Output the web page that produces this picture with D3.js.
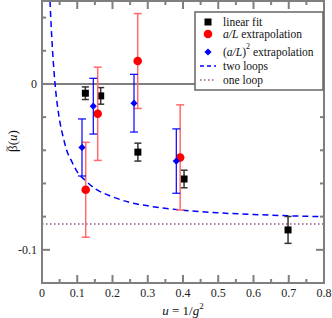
<!DOCTYPE html>
<html><head><meta charset="utf-8">
<script src="https://cdn.jsdelivr.net/npm/d3@7"></script>
<style>
html,body{margin:0;padding:0;background:#fff;}
</style></head>
<body><svg id="c" width="332" height="318" font-family="Liberation Serif, Times New Roman, serif"></svg>
<script>
// linear fit
const linU = [0.123, 0.1665, 0.272, 0.403, 0.698];
const linV = [-0.0056, -0.0072, -0.0411, -0.0573, -0.0880];
const linE = [0.0038, 0.0050, 0.0054, 0.0053, 0.0081];
// a/L extrapolation
const aLU = [0.124, 0.158, 0.2715, 0.392];
const aLV = [-0.0638, -0.0180, 0.0138, -0.0443];
const aLE = [0.0286, 0.0281, 0.0286, 0.0317];
// (a/L)^2 extrapolation
const a2U = [0.1135, 0.1455, 0.261, 0.381];
const a2V = [-0.0383, -0.0134, -0.0116, -0.0465];
const a2E = [0.0172, 0.0168, 0.0174, 0.0194];
// two loops curve
const twoU = [0.0227, 0.026, 0.03, 0.037, 0.045, 0.05, 0.06, 0.07, 0.085, 0.1, 0.122, 0.15, 0.2, 0.25, 0.3, 0.4, 0.5, 0.6, 0.7, 0.8];
const twoV = [0.050, 0.035, 0.020, 0.000, -0.015, -0.022, -0.032, -0.040, -0.047, -0.053, -0.058, -0.063, -0.068, -0.0715, -0.0735, -0.0761, -0.0777, -0.0787, -0.0795, -0.0800];
// one loop
const oneV = -0.0844;
// ticks
const xTicks = [0, 0.1, 0.2, 0.3, 0.4, 0.5, 0.6, 0.7, 0.8];
const xMinor = [0.05, 0.15, 0.25, 0.35, 0.45, 0.55, 0.65, 0.75];
const yTicks = [0, -0.1];
const yTickLabels = ["0", "-0.1"];
const yMinor = [0.04, 0.02, -0.02, -0.04, -0.06, -0.08, -0.12];

const FONT = "Liberation Serif, Times New Roman, serif";
const svg = d3.select("#c");
const L = 42, R = 324, T = 1, B = 283;
const x = d3.scaleLinear().domain([0, 0.8]).range([L, R]);
const y = d3.scaleLinear().domain([-0.12, 0.05]).range([B, T]);
const frameCol = "#7f7f7f";

const defs = svg.append("defs");
defs.append("clipPath").attr("id","clip").append("rect").attr("x",L).attr("y",T).attr("width",R-L).attr("height",B-T);

// zero line
svg.append("line").attr("x1",L).attr("x2",R).attr("y1",y(0)).attr("y2",y(0)).attr("stroke",frameCol).attr("stroke-width",2);

// one loop
svg.append("line").attr("x1",L).attr("x2",R).attr("y1",y(oneV)).attr("y2",y(oneV))
  .attr("stroke","#a0508a").attr("stroke-width",1.5).attr("stroke-dasharray","1.5,2.5");

// two loops
const line = d3.line().x(d=>x(d[0])).y(d=>y(d[1])).curve(d3.curveMonotoneX);
svg.append("path").attr("clip-path","url(#clip)").attr("d", line(twoU.map((u,i)=>[u,twoV[i]])))
  .attr("fill","none").attr("stroke","#0000ff").attr("stroke-width",1.5).attr("stroke-dasharray","6,4");

function errBars(U,V,E,col,w,cap){
  const g = svg.append("g").attr("stroke",col).attr("stroke-width",w).attr("fill","none");
  U.forEach((u,i)=>{
    const cx = x(u), y1 = y(V[i]+E[i]), y2 = y(V[i]-E[i]);
    g.append("line").attr("x1",cx).attr("x2",cx).attr("y1",y1).attr("y2",y2);
    g.append("line").attr("x1",cx-cap).attr("x2",cx+cap).attr("y1",y1).attr("y2",y1);
    g.append("line").attr("x1",cx-cap).attr("x2",cx+cap).attr("y1",y2).attr("y2",y2);
  });
}
// black
errBars(linU,linV,linE,"#333",1.5,3.5);
svg.append("g").selectAll("rect").data(linU).join("rect")
  .attr("x",(d)=>x(d)-3.5).attr("y",(d,i)=>y(linV[i])-3.5).attr("width",7).attr("height",7).attr("fill","#000");
// red
errBars(aLU,aLV,aLE,"#ff6a6a",1.5,4);
svg.append("g").selectAll("circle").data(aLU).join("circle")
  .attr("cx",d=>x(d)).attr("cy",(d,i)=>y(aLV[i])).attr("r",4.3).attr("fill","#ff0000");
// blue
errBars(a2U,a2V,a2E,"#0000ff",1.2,4);
svg.append("g").selectAll("path").data(a2U).join("path")
  .attr("transform",(d,i)=>`translate(${x(d)},${y(a2V[i])}) rotate(45)`)
  .attr("d", d3.symbol().type(d3.symbolSquare).size(26)).attr("fill","#0000ff");

// frame and ticks
const fr = svg.append("g").attr("stroke",frameCol).attr("stroke-width",2);
fr.append("rect").attr("x",L).attr("y",T).attr("width",R-L).attr("height",B-T).attr("fill","none");
xTicks.forEach(t=>{
  fr.append("line").attr("x1",x(t)).attr("x2",x(t)).attr("y1",B).attr("y2",B-8);
  fr.append("line").attr("x1",x(t)).attr("x2",x(t)).attr("y1",T).attr("y2",T+8);
});
xMinor.forEach(t=>{
  fr.append("line").attr("x1",x(t)).attr("x2",x(t)).attr("y1",B).attr("y2",B-4);
  fr.append("line").attr("x1",x(t)).attr("x2",x(t)).attr("y1",T).attr("y2",T+4);
});
yTicks.forEach(t=>{
  fr.append("line").attr("x1",L).attr("x2",L+8).attr("y1",y(t)).attr("y2",y(t));
  fr.append("line").attr("x1",R).attr("x2",R-8).attr("y1",y(t)).attr("y2",y(t));
});
yMinor.forEach(t=>{
  fr.append("line").attr("x1",L).attr("x2",L+4).attr("y1",y(t)).attr("y2",y(t));
  fr.append("line").attr("x1",R).attr("x2",R-4).attr("y1",y(t)).attr("y2",y(t));
});
// tick labels
svg.append("g").selectAll("text").data(xTicks).join("text")
  .attr("x",d=>x(d)).attr("y",297).attr("text-anchor","middle").attr("font-size",12).attr("font-family",FONT).attr("fill","#222")
  .text(d=>d===0?"0":d3.format(".1f")(d));
svg.append("g").selectAll("text").data(yTicks).join("text")
  .attr("x",37).attr("y",d=>y(d)+4).attr("text-anchor","end").attr("font-size",12).attr("font-family",FONT).attr("fill","#222")
  .text((d,i)=>yTickLabels[i]);

// axis titles
const xt = svg.append("text").attr("x",183).attr("y",315).attr("text-anchor","middle").attr("font-size",13).attr("font-family",FONT).attr("fill","#111");
xt.append("tspan").attr("font-style","italic").text("u");
xt.append("tspan").text(" = 1/");
xt.append("tspan").attr("font-style","italic").text("g");
xt.append("tspan").attr("dy",-6).attr("font-size",9).text("2");

const yg = svg.append("g").attr("transform","translate(17,141) rotate(-90)");
const yt = yg.append("text").attr("text-anchor","middle").attr("font-size",13).attr("font-family",FONT).attr("fill","#111");
yt.append("tspan").text("β(");
yt.append("tspan").attr("font-style","italic").text("u");
yt.append("tspan").text(")");
yg.append("text").attr("x",-8).attr("y",-7.5).attr("text-anchor","middle").attr("font-size",10).attr("font-family",FONT).attr("fill","#111").text("~");

// legend
const lg = svg.append("g");
lg.append("rect").attr("x",195).attr("y",12).attr("width",128).attr("height",78).attr("fill","#fff").attr("stroke","#666").attr("stroke-width",1.5);
const sx = 208, tx = 223;
const ly = [22, 34, 52, 66, 80];
lg.append("rect").attr("x",sx-3.5).attr("y",ly[0]-3.5).attr("width",7).attr("height",7).attr("fill","#000");
lg.append("circle").attr("cx",sx).attr("cy",ly[1]).attr("r",4.3).attr("fill","#ff0000");
lg.append("path").attr("transform",`translate(${sx},${ly[2]}) rotate(45)`).attr("d", d3.symbol().type(d3.symbolSquare).size(26)).attr("fill","#0000ff");
lg.append("line").attr("x1",sx-8).attr("x2",sx+8).attr("y1",ly[3]).attr("y2",ly[3]).attr("stroke","#0000ff").attr("stroke-width",1.5).attr("stroke-dasharray","4,3");
lg.append("line").attr("x1",sx-8).attr("x2",sx+8).attr("y1",ly[4]).attr("y2",ly[4]).attr("stroke","#a0508a").attr("stroke-width",1.5).attr("stroke-dasharray","1.5,2.5");
function ltext(yy){ return lg.append("text").attr("x",tx).attr("y",yy+4).attr("font-size",11.5).attr("font-family",FONT).attr("fill","#111"); }
ltext(ly[0]).text("linear fit");
let t1 = ltext(ly[1]); t1.append("tspan").attr("font-style","italic").text("a/L"); t1.append("tspan").text(" extrapolation");
let t2 = ltext(ly[2]); t2.append("tspan").text("("); t2.append("tspan").attr("font-style","italic").text("a/L"); t2.append("tspan").text(")");
t2.append("tspan").attr("dy",-7).attr("font-size",8).text("2"); t2.append("tspan").attr("dy",7).text(" extrapolation");
ltext(ly[3]).text("two loops");
ltext(ly[4]).text("one loop");
</script></body></html>
